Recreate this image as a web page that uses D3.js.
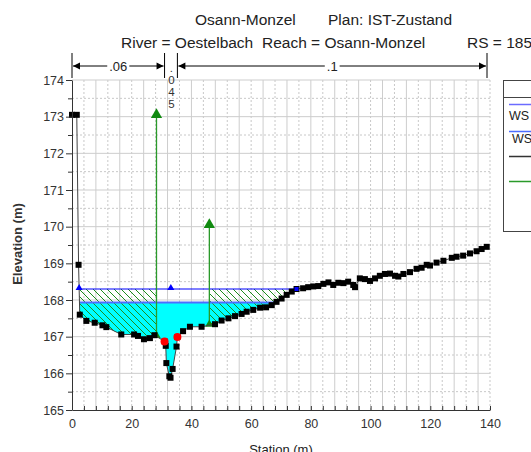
<!DOCTYPE html>
<html>
<head>
<meta charset="utf-8">
<script src="https://cdn.jsdelivr.net/npm/d3@7"></script>
<style>
  body { margin: 0; background: #fff; }
  text { font-family: "Liberation Sans", Arial, sans-serif; fill: #222; }
</style>
</head>
<body>
<svg width="531" height="452"></svg>
<script>
// ground profile (station m, elevation m)
var groundSta = [0, 1.6, 2.2, 2.6, 4.8, 7.6, 10.2, 11.5, 16.5, 20.8, 22.1, 24.1, 26.1, 27.6,
    31.0, 31.4, 31.6, 32.6, 33.0, 33.7, 35.0, 35.3, 37.2, 39.5, 43.4, 47.9, 50.1, 52.4, 54.6,
    56.8, 58.5, 60.7, 63.0, 65.0, 66.9, 68.5, 70.2, 71.9, 73.6, 75.2, 77.4, 79.1, 80.8, 82.5,
    84.2, 85.9, 87.5, 89.2, 90.9, 92.5, 94.2, 94.8, 96.4, 98.1, 99.8, 101.5, 103.1, 104.8,
    106.5, 108.2, 109.3, 111.0, 113.2, 115.4, 117.1, 118.8, 119.9, 122.1, 124.4, 127.2,
    128.8, 131.0, 133.3, 135.5, 137.2, 138.9];
var groundElev = [173.05, 173.05, 168.96, 167.6, 167.43, 167.38, 167.31, 167.26, 167.06, 167.06,
    167.02, 166.93, 166.96, 167.04, 166.87, 166.75, 166.28, 165.92, 165.88, 166.12, 166.73,
    166.99, 167.15, 167.27, 167.27, 167.34, 167.44, 167.5, 167.56, 167.62, 167.68, 167.73,
    167.79, 167.8, 167.86, 167.95, 168.04, 168.14, 168.23, 168.3, 168.32, 168.35, 168.37,
    168.38, 168.44, 168.48, 168.41, 168.47, 168.46, 168.5, 168.41, 168.35, 168.59, 168.57,
    168.52, 168.59, 168.66, 168.71, 168.72, 168.66, 168.64, 168.71, 168.76, 168.85, 168.88,
    168.96, 168.94, 169.02, 169.07, 169.15, 169.18, 169.21, 169.27, 169.33, 169.39, 169.45];

var wsUpper = 168.3;
var wsLower = 167.93;
var wsUpperMarks = [33.1];

var bankSta = [31.0, 35.3];

// ineffective flow areas: boundary station, elevation, hatched range
var ineffSta = [28.3, 46];
var ineffElev = [173.05, 170.05];
var ineffFrom = [null, 46];
var ineffTo = [28.3, null];

// manning's n
var nBreaks = [0, 31.0, 35.3, 139];
var nLabels = [".06", ".045", ".1"];

var xTicks = d3.range(0, 141, 4);
var yTicks = d3.range(165, 174.01, 0.5);

var titleParts1 = ["Osann-Monzel", "Plan: IST-Zustand"];
var titleParts2 = ["River = Oestelbach", "Reach = Osann-Monzel", "RS = 1850"];
var legendNames = ["WS HQ100", "WS HQ1", "Ground", "Ineff"];

var svg = d3.select("svg");
var x = d3.scaleLinear().domain([0, 140]).range([72, 490]);
var y = d3.scaleLinear().domain([165, 174]).range([410, 80]);

function groundAt(s) {
    for (var i = 0; i < groundSta.length - 1; i++) {
        if (s >= groundSta[i] && s <= groundSta[i + 1]) {
            var t = (s - groundSta[i]) / (groundSta[i + 1] - groundSta[i]);
            return groundElev[i] + t * (groundElev[i + 1] - groundElev[i]);
        }
    }
    return groundElev[groundElev.length - 1];
}

function crossings(level) {
    var out = [];
    for (var i = 0; i < groundSta.length - 1; i++) {
        var a = groundElev[i], b = groundElev[i + 1];
        if ((a >= level && b < level) || (a < level && b >= level)) {
            out.push(groundSta[i] + (level - a) / (b - a) * (groundSta[i + 1] - groundSta[i]));
        }
    }
    return out;
}

function wetPoints(level, a, b) {
    var s = [a].concat(groundSta.filter(d => d > a && d < b), [b]);
    return s.map(d => [d, Math.min(groundAt(d), level)]);
}

var wetArea = function(level) {
    return d3.area()
        .x(d => x(d[0]))
        .y0(y(level))
        .y1(d => y(d[1]));
};

// hatch pattern
var defs = svg.append("defs");
defs.append("pattern")
    .attr("id", "hatch")
    .attr("patternUnits", "userSpaceOnUse")
    .attr("width", 7).attr("height", 7)
    .append("path")
    .attr("d", "M0,0L7,7M-1,6L1,8M6,-1L8,1")
    .attr("stroke", "#1e8c1e")
    .attr("stroke-width", 1);

// grid
svg.append("g").selectAll("line")
    .data(xTicks.filter(d => d > 0))
    .enter().append("line")
    .attr("x1", d => x(d)).attr("x2", d => x(d))
    .attr("y1", y(174)).attr("y2", y(165))
    .attr("stroke", d => d % 8 === 0 ? "#cdcdcd" : "#c8c8c8")
    .attr("stroke-dasharray", d => d % 8 === 0 ? null : "2,2");

svg.append("g").selectAll("line")
    .data(yTicks.filter(d => d > 165))
    .enter().append("line")
    .attr("x1", x(0)).attr("x2", x(140))
    .attr("y1", d => y(d)).attr("y2", d => y(d))
    .attr("stroke", d => d % 1 === 0 ? "#cdcdcd" : "#c8c8c8")
    .attr("stroke-dasharray", d => d % 1 === 0 ? null : "2,2");

// water (lower profile)
var cLow = crossings(wsLower);
svg.append("path")
    .attr("d", wetArea(wsLower)(wetPoints(wsLower, cLow[0], cLow[1])))
    .attr("fill", "#00ffff");

// ineffective areas under the upper profile
var cUp = crossings(wsUpper);
ineffSta.forEach(function(s, i) {
    var a = ineffFrom[i] === null ? cUp[0] : ineffFrom[i];
    var b = ineffTo[i] === null ? cUp[cUp.length - 1] : ineffTo[i];
    svg.append("path")
        .attr("d", wetArea(wsUpper)(wetPoints(wsUpper, a, b)))
        .attr("fill", "url(#hatch)");
});

// water surfaces
svg.append("line")
    .attr("x1", x(cLow[0])).attr("x2", x(cLow[1]))
    .attr("y1", y(wsLower)).attr("y2", y(wsLower))
    .attr("stroke", "#4d6dff").attr("stroke-width", 2);

svg.append("line")
    .attr("x1", x(cUp[0])).attr("x2", x(cUp[cUp.length - 1]))
    .attr("y1", y(wsUpper)).attr("y2", y(wsUpper))
    .attr("stroke", "#0000ff").attr("stroke-width", 1);

// ineffective markers
var tri = d3.symbol().type(d3.symbolTriangle);
ineffSta.forEach(function(s, i) {
    svg.append("line")
        .attr("x1", x(s)).attr("x2", x(s))
        .attr("y1", y(groundAt(s))).attr("y2", y(ineffElev[i]))
        .attr("stroke", "#2a9a2a").attr("stroke-width", 1.3);
    svg.append("path")
        .attr("d", tri.size(55)())
        .attr("transform", "translate(" + x(s) + "," + y(ineffElev[i]) + ")")
        .attr("fill", "#108a10");
    svg.append("path")
        .attr("d", tri.size(30)())
        .attr("transform", "translate(" + x(s) + "," + (y(groundAt(s)) - 1) + ")")
        .attr("fill", "#108a10");
});

// ground
var groundPts = groundSta.map((s, i) => [s, groundElev[i]]);
svg.append("path")
    .attr("d", d3.line().x(d => x(d[0])).y(d => y(d[1]))(groundPts))
    .attr("fill", "none")
    .attr("stroke", "#444")
    .attr("stroke-width", 1);

svg.append("g").selectAll("rect")
    .data(groundPts)
    .enter().append("rect")
    .attr("x", d => x(d[0]) - 3).attr("y", d => y(d[1]) - 3)
    .attr("width", 6).attr("height", 6)
    .attr("fill", "#000");

// bank stations
svg.append("g").selectAll("circle")
    .data(bankSta)
    .enter().append("circle")
    .attr("cx", d => x(d)).attr("cy", d => y(groundAt(d)))
    .attr("r", 4)
    .attr("fill", "#ff0000");

// markers on the upper water surface
[cUp[0]].concat(wsUpperMarks).forEach(function(s) {
    svg.append("path")
        .attr("d", tri.size(22)())
        .attr("transform", "translate(" + x(s) + "," + (y(wsUpper) - 1) + ")")
        .attr("fill", "#0000ff");
});
svg.append("rect")
    .attr("x", x(cUp[cUp.length - 1]) - 2).attr("y", y(wsUpper) - 2)
    .attr("width", 4).attr("height", 4)
    .attr("fill", "#0000ff");

// axes
var yAxis = d3.axisLeft(y)
    .tickValues(yTicks)
    .tickSizeOuter(0)
    .tickPadding(2)
    .tickFormat(d => d % 1 === 0 ? d : "");
var gy = svg.append("g").attr("transform", "translate(" + x(0) + ",0)").call(yAxis);
gy.selectAll(".tick line").attr("x2", d => d % 1 === 0 ? -6 : -4);

var xAxis = d3.axisBottom(x)
    .tickValues(xTicks)
    .tickSizeInner(-4)
    .tickSizeOuter(0)
    .tickPadding(9)
    .tickFormat(d => d % 20 === 0 ? d : "");
var gx = svg.append("g").attr("transform", "translate(0," + y(165) + ")").call(xAxis);

[gx, gy].forEach(function(g) {
    g.select(".domain").attr("stroke", "#333");
    g.selectAll(".tick line").attr("stroke", "#333");
    g.selectAll("text").attr("font-size", 12.5).style("fill", "#333")
        .attr("font-family", "Liberation Sans, Arial, sans-serif");
});

svg.append("text")
    .attr("x", 281).attr("y", 454)
    .attr("text-anchor", "middle")
    .attr("font-size", 13)
    .text("Station (m)");

svg.append("text")
    .attr("transform", "translate(22,244) rotate(-90)")
    .attr("text-anchor", "middle")
    .attr("font-size", 13)
    .attr("font-weight", "bold")
    .style("fill", "#333")
    .text("Elevation (m)");

// titles
var title1X = [195, 328];
var title2X = [121, 262, 467];
titleParts1.forEach(function(t, i) {
    svg.append("text").attr("x", title1X[i]).attr("y", 25)
        .attr("font-size", 15.5).text(t);
});
titleParts2.forEach(function(t, i) {
    svg.append("text").attr("x", title2X[i]).attr("y", 48)
        .attr("font-size", 15.5).text(t);
});

// manning's n spans
var nTop = 53, nBot = 78, nLine = 66;
nBreaks.forEach(function(s) {
    svg.append("line")
        .attr("x1", x(s)).attr("x2", x(s))
        .attr("y1", nTop).attr("y2", nBot)
        .attr("stroke", "#000");
});

function arrowHead(px, dir) {
    return "M" + px + "," + nLine + "l" + (-7 * dir) + ",-3.5l0,7z";
}

nLabels.forEach(function(lab, i) {
    var a = x(nBreaks[i]), b = x(nBreaks[i + 1]);
    var mid = (a + b) / 2;
    if (b - a < 30) {
        // too narrow: stack the characters
        var st = svg.append("text")
            .attr("text-anchor", "middle")
            .attr("font-size", 11.5)
            .style("fill", "#333");
        lab.split("").forEach(function(ch, j) {
            st.append("tspan")
                .attr("x", mid + 0.5).attr("y", 72 + j * 12)
                .text(ch);
        });
        return;
    }
    var t = svg.append("text")
        .attr("x", mid).attr("y", 71)
        .attr("text-anchor", "middle")
        .attr("font-size", 13)
        .text(lab);
    var w = t.node().getComputedTextLength();
    svg.append("line")
        .attr("x1", a + 1).attr("x2", mid - w / 2 - 2)
        .attr("y1", nLine).attr("y2", nLine).attr("stroke", "#000");
    svg.append("line")
        .attr("x1", mid + w / 2 + 2).attr("x2", b - 1)
        .attr("y1", nLine).attr("y2", nLine).attr("stroke", "#000");
    svg.append("path").attr("d", arrowHead(a + 1, -1)).attr("fill", "#000");
    svg.append("path").attr("d", arrowHead(b - 1, 1)).attr("fill", "#000");
});

// legend (mostly outside the window, as in the original screenshot)
var lg = svg.append("g");
lg.append("rect")
    .attr("x", 503.5).attr("y", 80.5)
    .attr("width", 110).attr("height", 151)
    .attr("fill", "#fff").attr("stroke", "#444");
lg.append("line")
    .attr("x1", 503.5).attr("x2", 613.5)
    .attr("y1", 97.5).attr("y2", 97.5)
    .attr("stroke", "#444");
lg.append("text")
    .attr("x", 558).attr("y", 93)
    .attr("text-anchor", "middle")
    .attr("font-size", 12)
    .text("Legend");

var legendY = [104, 131, 156, 181];
var legendColor = ["#6b6bff", "#4d6dff", "#333", "#2a9a2a"];
var legendTextY = [120, 143, null, null];
var legendTextX = [509, 512, 0, 0];
legendNames.forEach(function(name, i) {
    lg.append("line")
        .attr("x1", 509).attr("x2", 545)
        .attr("y1", legendY[i] + 0.5).attr("y2", legendY[i] + 0.5)
        .attr("stroke", legendColor[i])
        .attr("stroke-width", 1.5);
    if (legendTextY[i] !== null) {
        lg.append("text")
            .attr("x", legendTextX[i]).attr("y", legendTextY[i])
            .attr("font-size", 12.5)
            .text(name);
    } else {
        lg.append("text")
            .attr("x", 550).attr("y", legendY[i] + 4)
            .attr("font-size", 12.5)
            .text(name);
    }
});
</script>
</body>
</html>
